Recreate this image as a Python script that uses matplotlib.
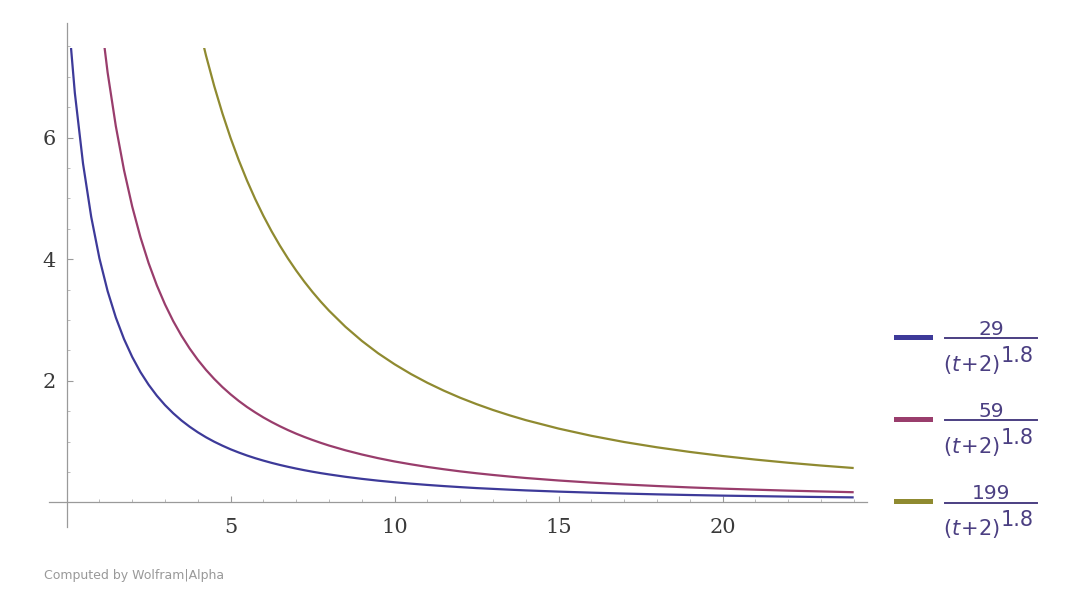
import matplotlib
matplotlib.use("Agg")
import matplotlib.pyplot as plt
from matplotlib.patches import Rectangle
from matplotlib.ticker import MultipleLocator

# ===== 1) Data =====
t = [0, 0.25, 0.5, 0.75, 1, 1.25, 1.5, 1.75, 2, 2.25, 2.5, 2.75, 3, 3.25, 3.5, 3.75,
     4, 4.25, 4.5, 4.75, 5, 5.25, 5.5, 5.75, 6, 6.25, 6.5, 6.75, 7, 7.25, 7.5, 7.75,
     8, 8.5, 9, 9.5, 10, 10.5, 11, 11.5, 12, 12.5, 13, 13.5, 14,
     15, 16, 17, 18, 19, 20, 21, 22, 23, 24]

y_29 = [8.328, 6.737, 5.573, 4.695, 4.014, 3.475, 3.041, 2.686, 2.392, 2.144, 1.935, 1.755,
        1.600, 1.466, 1.348, 1.245, 1.153, 1.071, 0.998, 0.933, 0.873, 0.820, 0.771, 0.727,
        0.687, 0.650, 0.616, 0.585, 0.556, 0.529, 0.504, 0.481, 0.460, 0.421, 0.387, 0.357,
        0.331, 0.308, 0.287, 0.268, 0.251, 0.235, 0.222, 0.209, 0.197,
        0.177, 0.160, 0.145, 0.132, 0.121, 0.111, 0.103, 0.095, 0.088, 0.082]

y_59 = [16.943, 13.706, 11.339, 9.551, 8.166, 7.071, 6.188, 5.465, 4.866, 4.363, 3.936, 3.571,
        3.256, 2.982, 2.743, 2.532, 2.345, 2.179, 2.031, 1.897, 1.777, 1.668, 1.569, 1.480,
        1.397, 1.322, 1.253, 1.189, 1.130, 1.076, 1.026, 0.979, 0.935, 0.857, 0.788, 0.727,
        0.673, 0.626, 0.583, 0.545, 0.510, 0.479, 0.451, 0.425, 0.401,
        0.360, 0.325, 0.295, 0.269, 0.246, 0.226, 0.209, 0.193, 0.180, 0.167]

y_199 = [57.15, 46.23, 38.24, 32.21, 27.54, 23.85, 20.87, 18.43, 16.41, 14.72, 13.28, 12.05,
         10.98, 10.06, 9.251, 8.540, 7.910, 7.350, 6.849, 6.399, 5.993, 5.627, 5.294, 4.990,
         4.713, 4.459, 4.226, 4.011, 3.813, 3.629, 3.459, 3.301, 3.154, 2.889, 2.657, 2.452,
         2.272, 2.111, 1.967, 1.838, 1.721, 1.616, 1.520, 1.433, 1.353,
         1.214, 1.095, 0.993, 0.906, 0.830, 0.763, 0.704, 0.652, 0.606, 0.565]

numerators = ["29", "59", "199"]
colors = ["#3d3a99", "#993d6c", "#8f8a30"]
TEXT_C = "#4b3f82"

PLOT_TOP = 7.47  # plot range cut-off of the curves

# ===== 2) Figure =====
plt.rcParams["mathtext.fontset"] = "dejavusans"
W, H = 1080, 607
fig = plt.figure(figsize=(W / 100, H / 100), dpi=100)
ax = fig.add_axes([0.0456, 0.1313, 0.757, 0.8313])

clip = Rectangle((-0.5, -0.5), 25, PLOT_TOP + 0.5, transform=ax.transData)
for ys, c in zip([y_29, y_59, y_199], colors):
    line, = ax.plot(t, ys, color=c, lw=1.6, solid_capstyle="butt")
    line.set_clip_path(clip)

ax.set_xlim(-0.53, 24.4)
ax.set_ylim(-0.41, 7.89)

# axes through the origin, Wolfram style
for s in ["top", "right"]:
    ax.spines[s].set_visible(False)
ax.spines["left"].set_position(("data", 0))
ax.spines["bottom"].set_position(("data", 0))
for s in ["left", "bottom"]:
    ax.spines[s].set_color("#9a9a9a")
    ax.spines[s].set_linewidth(0.9)

ax.xaxis.set_minor_locator(MultipleLocator(1))
ax.yaxis.set_minor_locator(MultipleLocator(0.5))
ax.set_xticks([5, 10, 15, 20])
ax.set_yticks([2, 4, 6])

ax.tick_params(which="major", direction="in", length=4.5, width=0.8,
               color="#9a9a9a", labelsize=15, labelcolor="#3a3a3a")
ax.tick_params(which="minor", direction="in", length=2.5, width=0.6,
               color="#b0b0b0")
ax.tick_params(axis="x", which="major", pad=11)
ax.tick_params(axis="y", which="major", pad=8)
for lab in ax.get_xticklabels() + ax.get_yticklabels():
    lab.set_fontfamily("DejaVu Serif")

# ===== 3) Legend (drawn by hand to match the stacked fractions) =====
bar_y = [1 - 338.3 / H, 1 - 420.3 / H, 1 - 502.5 / H]
for num, c, by in zip(numerators, colors, bar_y):
    # colour swatch
    fig.add_artist(plt.Line2D([896 / W, 930 / W], [by + 1.5 / H, by + 1.5 / H], color=c,
                              lw=3.6, transform=fig.transFigure))
    # fraction bar
    fig.add_artist(plt.Line2D([945 / W, 1037 / W], [by, by], color=TEXT_C,
                              lw=1.4, transform=fig.transFigure))
    fig.text(991 / W, by + 3.5 / H, num, color=TEXT_C, fontsize=14.5,
             ha="center", va="baseline", family="DejaVu Sans")
    fig.text(943 / W, by - 33 / H, r"$(t\!+\!2)$", color=TEXT_C, fontsize=15,
             ha="left", va="baseline")
    fig.text(1001 / W, by - 24 / H, "1.8", color=TEXT_C, fontsize=15,
             ha="left", va="baseline", family="DejaVu Sans")

fig.text(44 / W, 1 - 575 / H, "Computed by Wolfram|Alpha", color="#999999",
         fontsize=9, family="DejaVu Sans", va="center")

fig.savefig("out.png", dpi=100)
